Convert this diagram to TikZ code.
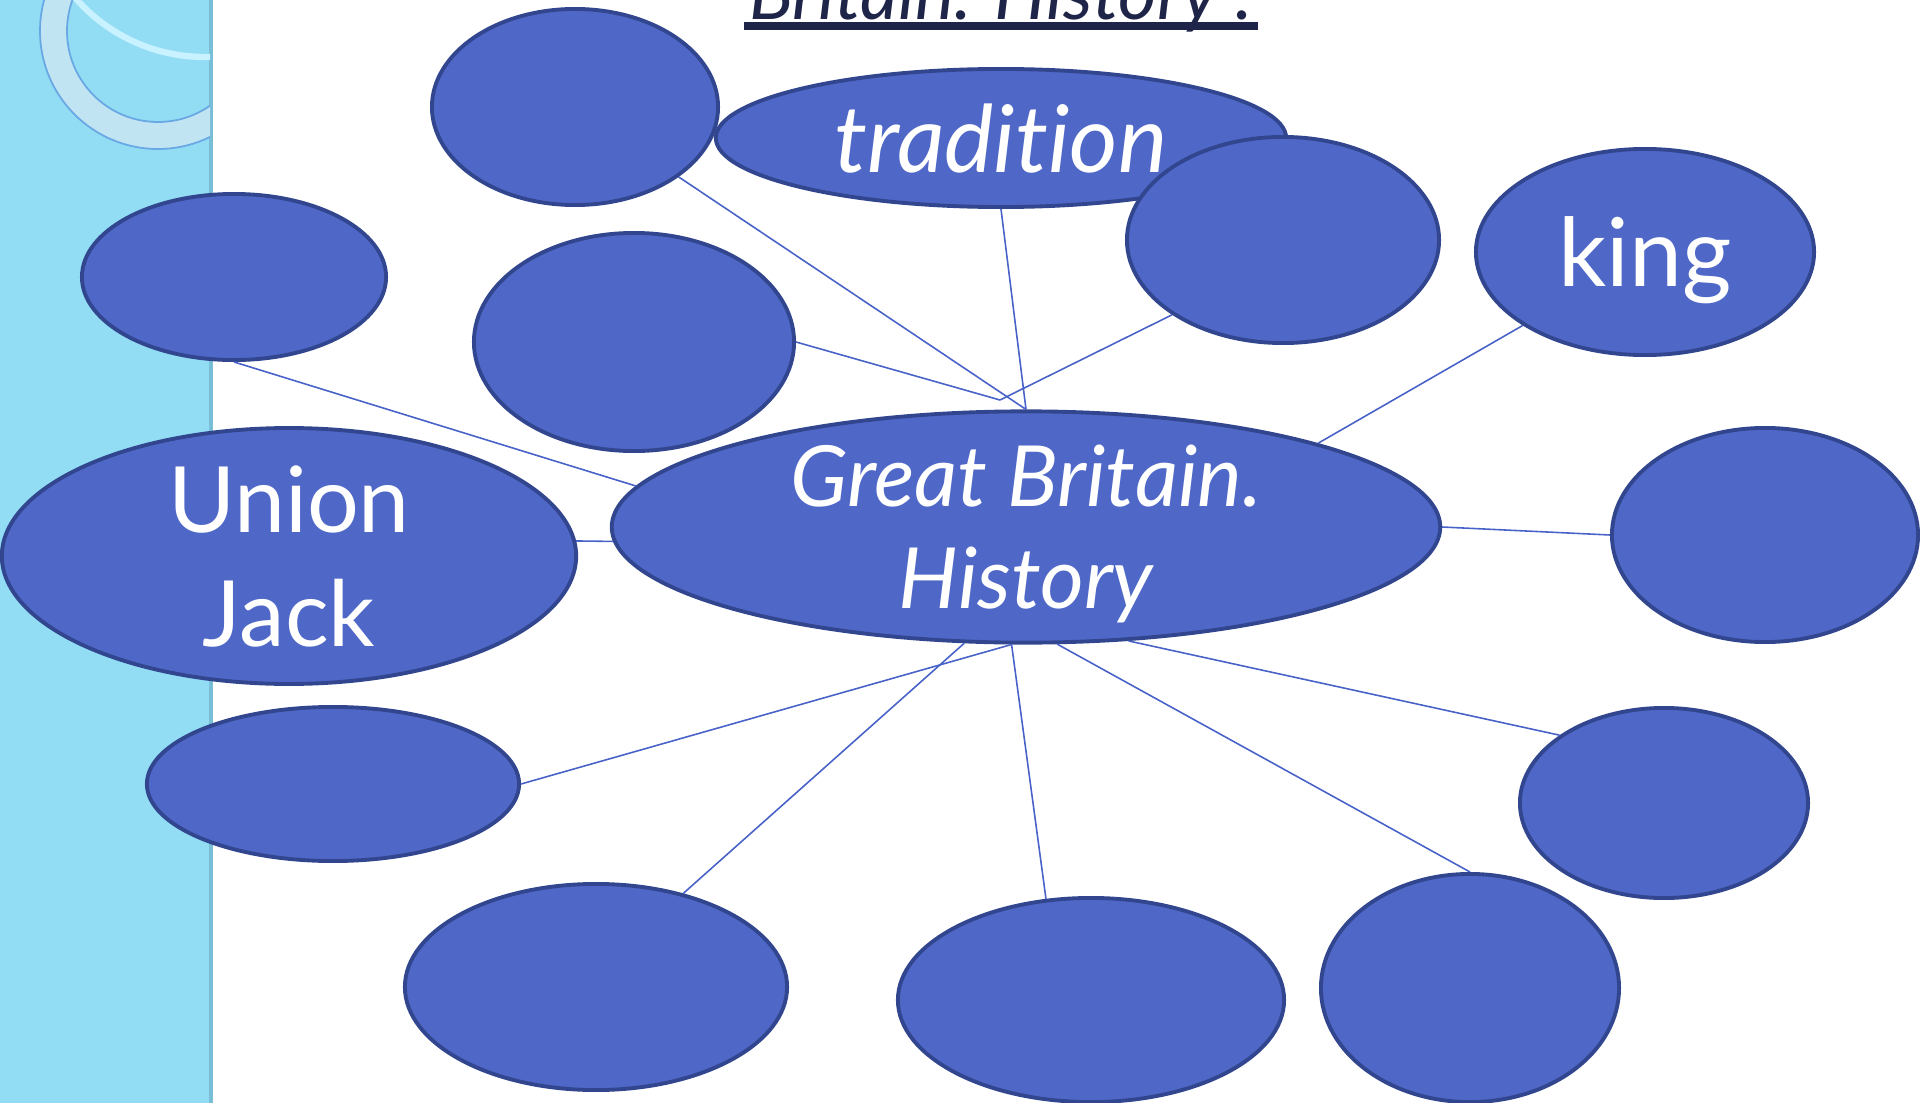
\documentclass[tikz,border=0pt]{standalone}
\usepackage{fontspec}
\setmainfont{Lato}[Ligatures={NoCommon}]
\usepackage{tikz}
\usetikzlibrary{shapes.geometric,calc}

\definecolor{bubblefill}{RGB}{79,104,199}
\definecolor{bubbleedge}{RGB}{49,70,142}
\definecolor{linkblue}{RGB}{72,98,200}
\definecolor{panelblue}{RGB}{146,220,244}
\definecolor{panelshade}{RGB}{120,190,215}
\definecolor{ringfill}{RGB}{192,228,242}
\definecolor{ringline}{RGB}{105,168,228}
\definecolor{arcglow}{RGB}{200,242,255}
\definecolor{titlenavy}{RGB}{30,37,72}

\tikzset{
  bubble/.style={ellipse, draw=bubbleedge, fill=bubblefill, line width=1.1pt,
    inner sep=0pt, text=white, align=center, text depth=0pt},
  link/.style={draw=linkblue, line width=0.45pt},
  titletext/.style={inner sep=0pt, text=titlenavy, font=\fontsize{21}{25}\selectfont\itshape},
}

\begin{document}
\begin{tikzpicture}[x=0.01cm,y=-0.01cm]
\useasboundingbox (0,0) rectangle (1920,1103);
\clip (0,0) rectangle (1920,1103);
% side panel
\fill[panelblue] (0,0) rectangle (212,1103);
\draw[panelshade,line width=1pt] (211,0) -- (211,1103);
\begin{scope}
\clip (0,0) rectangle (210,1103);
\fill[ringfill,even odd rule] (158,31) circle (118) (158,31) circle (91);
\draw[ringline,line width=0.5pt] (158,31) circle (118);
\draw[ringline,line width=0.5pt] (158,31) circle (91);
\draw[arcglow,line width=1.8pt] (205,-115) circle (172);
\end{scope}
% title (cut at the top)
\node[titletext,anchor=base] (title) at (1001,19) {Britain. History”.};
\draw[titlenavy,line width=2.2pt] ($(title.base west)+(-4,7)$) -- ($(title.base east)+(4,7)$);
% bubbles
\node[bubble,minimum width=2.86cm,minimum height=1.96cm] (upA) at (575,107) {};
\node[bubble,minimum width=5.70cm,minimum height=1.38cm,
  font=\fontsize{26.5}{30}\selectfont\itshape] (tradition) at (1001,138) {tradition};
\node[bubble,minimum width=3.12cm,minimum height=2.06cm] (upB) at (1283,240) {};
\node[bubble,minimum width=3.38cm,minimum height=2.06cm,
  font=\fontsize{27}{32}\selectfont] (king) at (1645,252) {king};
\node[bubble,minimum width=3.04cm,minimum height=1.66cm] (leftA) at (234,277) {};
\node[bubble,minimum width=3.20cm,minimum height=2.18cm] (midA) at (634,342) {};
\node[bubble,minimum width=5.74cm,minimum height=2.36cm,
  font=\fontsize{26}{32.5}\selectfont] (union) at (289,556) {Union\\Jack};
\node[bubble,minimum width=8.28cm,minimum height=2.28cm,
  font=\fontsize{24}{29}\selectfont\itshape] (central) at (1026,527) {Great Britain.\\History};
\node[bubble,minimum width=3.06cm,minimum height=2.14cm] (right) at (1765,535) {};
\node[bubble,minimum width=3.72cm,minimum height=1.54cm] (lowA) at (333,784) {};
\node[bubble,minimum width=2.88cm,minimum height=1.90cm] (lowB) at (1664,803) {};
\node[bubble,minimum width=3.82cm,minimum height=2.06cm] (botA) at (596,987) {};
\node[bubble,minimum width=3.86cm,minimum height=2.04cm] (botB) at (1091,1000) {};
\node[bubble,minimum width=2.98cm,minimum height=2.28cm] (botC) at (1470,988) {};
\coordinate (hub) at (1000,400);
% links
\draw[link] (upA.-34) -- (central.north);
\draw[link] (tradition.south) -- (central.north);
\draw[link] (midA.east) -- (hub);
\draw[link] (upB.214) -- (hub);
\draw[link] (king.211) -- (central.16);
\draw[link] (leftA.south) -- (central.174);
\draw[link] (union.3) -- (central.182);
\draw[link] (right.west) -- (central.east);
\draw[link] (lowA.east) -- (central.263);
\draw[link] (botA.47) -- (central.242);
\draw[link] (botB.114) -- (central.263);
\draw[link] (botC.north) -- (central.285);
\draw[link] (lowB.147) -- (central.312);
\end{tikzpicture}
\end{document}
